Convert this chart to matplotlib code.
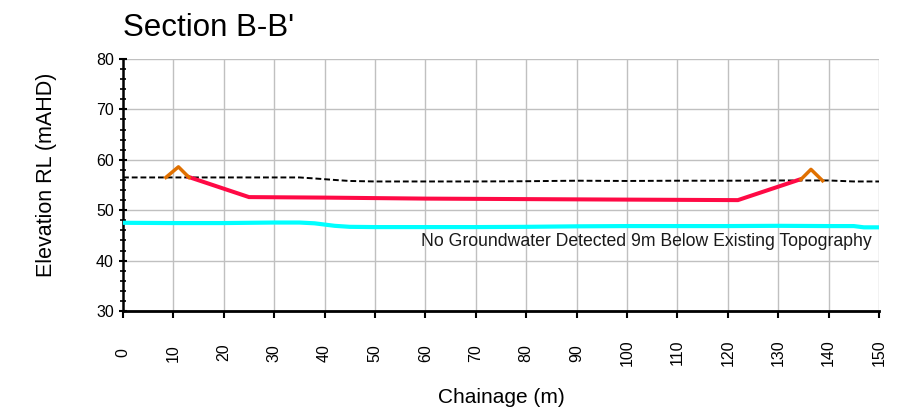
import numpy as np
import matplotlib.pyplot as plt
from matplotlib.ticker import MultipleLocator

plt.rcParams['font.family'] = ['Liberation Sans', 'DejaVu Sans']

# ---------------------------------
# Section data (chainage m, elevation mAHD)
# ---------------------------------
topo_x = [0, 10, 20, 30, 35, 38, 42, 45, 50, 60, 70, 80, 90, 100, 110, 120, 130, 140, 145, 150]
topo_y = [56.5, 56.5, 56.5, 56.5, 56.5, 56.3, 56.0, 55.8, 55.7, 55.7, 55.7, 55.75, 55.85, 55.8, 55.85, 55.85, 55.9, 55.9, 55.7, 55.7]

cut_x = [13.0, 25.0, 40, 60, 80, 100, 122.0, 134.3]
cut_y = [56.6, 52.6, 52.5, 52.3, 52.2, 52.1, 52.0, 56.1]

bund_left_x = [8.5, 11.0, 13.1]
bund_left_y = [56.5, 58.6, 56.5]
bund_right_x = [134.5, 136.5, 138.8]
bund_right_y = [56.1, 58.1, 55.85]

gw_x = [0, 10, 20, 30, 35, 38, 42, 45, 50, 60, 70, 80, 90, 100, 110, 120, 130, 140, 145, 147, 150]
gw_y = [47.5, 47.45, 47.45, 47.55, 47.55, 47.4, 46.9, 46.7, 46.65, 46.65, 46.65, 46.7, 46.8, 46.85, 46.85, 46.85, 46.9, 46.85, 46.85, 46.6, 46.6]

note = "No Groundwater Detected 9m Below Existing Topography"

W, H = 910, 413
fig = plt.figure(figsize=(W / 100, H / 100), dpi=100)
ax = fig.add_axes([123 / W, 1 - 311 / H, 756 / W, 252 / H])

ax.plot(gw_x, gw_y, color='#00ffff', lw=3, solid_capstyle='butt', zorder=3)
ax.plot(topo_x, topo_y, color='black', lw=1.4, ls=(0, (3, 1.5)), zorder=4)
ax.plot(cut_x, cut_y, color='#ff0a45', lw=2.9, solid_joinstyle='miter', zorder=5)
ax.plot(bund_left_x, bund_left_y, color='#e07000', lw=2.5, zorder=5)
ax.plot(bund_right_x, bund_right_y, color='#e07000', lw=2.5, zorder=5)

ax.text(148.6, 42.9, note, ha='right', va='baseline', fontsize=12.7, color='#1a1a1a')

ax.set_xlim(0, 150)
ax.set_ylim(30, 80)
ax.xaxis.set_major_locator(MultipleLocator(10))
ax.yaxis.set_major_locator(MultipleLocator(10))
ax.yaxis.set_minor_locator(MultipleLocator(2))
ax.grid(True, which='major', color='#c0c0c0', lw=1)
ax.set_axisbelow(True)

for side in ['top', 'right']:
    ax.spines[side].set_visible(False)
ax.spines['left'].set_linewidth(1.8)
ax.spines['bottom'].set_linewidth(2)

ax.tick_params(axis='y', which='major', direction='inout', length=6, width=1.5, labelsize=11.5)
ax.tick_params(axis='y', which='minor', direction='inout', length=5, width=1.2)
ax.tick_params(axis='x', which='major', direction='out', length=5, width=1.5, labelsize=11.5,
               labelrotation=90, pad=25)
for lab in ax.get_xticklabels():
    lab.set_va('center')

fig.text(123 / W, 1 - 36 / H, "Section B-B'", fontsize=22.5, ha='left', va='baseline')
fig.text(501 / W, 1 - 403 / H, 'Chainage (m)', fontsize=15, ha='center', va='baseline')
fig.text(47 / W, 1 - 175 / H, 'Elevation RL (mAHD)', fontsize=15.5, rotation=90,
         ha='center', va='center')

fig.savefig('out.png', dpi=100)
